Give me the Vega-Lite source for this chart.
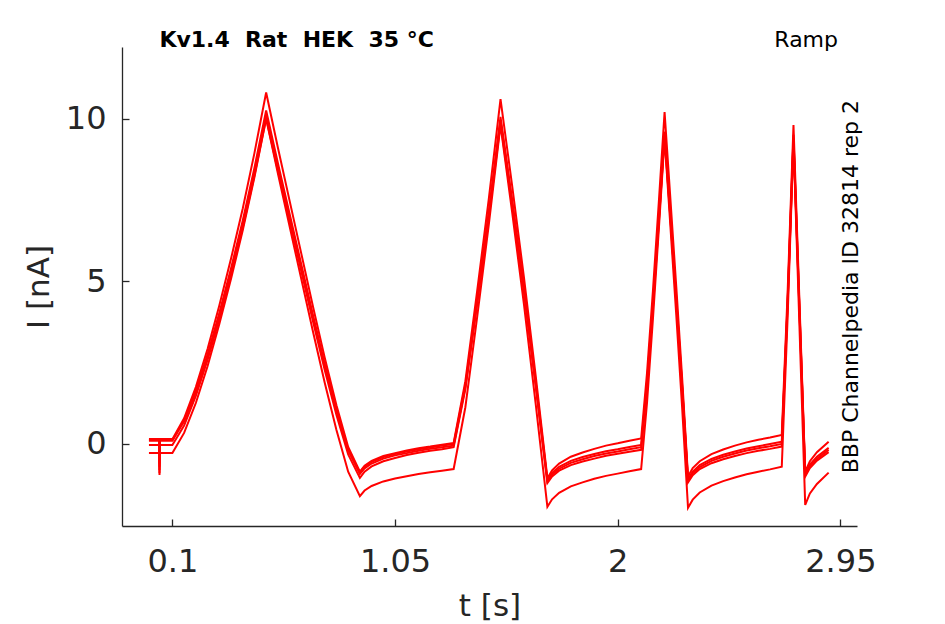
{
  "$schema": "https://vega.github.io/schema/vega-lite/v6.json",
  "width": 735,
  "height": 479,
  "autosize": "none",
  "padding": {"left": 122, "top": 47, "right": 88, "bottom": 98},
  "background": "white",
  "config": {
    "view": {"stroke": null},
    "axis": {
      "grid": false,
      "domainColor": "#262626",
      "domainWidth": 1.3,
      "tickColor": "#262626",
      "tickWidth": 1.3,
      "tickSize": -7,
      "labelColor": "#262626",
      "titleColor": "#262626",
      "labelFont": "DejaVu Sans",
      "titleFont": "DejaVu Sans",
      "labelFontSize": 32,
      "titleFontSize": 31,
      "titleFontWeight": "normal"
    }
  },
  "layer": [
    {
      "data": {
        "values": [
          {"s":1,"t":0,"i":0.15},{"s":1,"t":0.044,"i":0.15},{"s":1,"t":0.045,"i":-0.95},{"s":1,"t":0.046,"i":0.15},
          {"s":1,"t":0.1,"i":0.15},{"s":1,"t":0.15,"i":0.79},{"s":1,"t":0.2,"i":1.75},{"s":1,"t":0.25,"i":2.92},{"s":1,"t":0.3,"i":4.25},{"s":1,"t":0.35,"i":5.69},{"s":1,"t":0.4,"i":7.23},{"s":1,"t":0.45,"i":8.94},{"s":1,"t":0.5,"i":10.8},
          {"s":1,"t":0.55,"i":9.11},{"s":1,"t":0.6,"i":7.48},{"s":1,"t":0.65,"i":5.85},{"s":1,"t":0.7,"i":4.22},{"s":1,"t":0.75,"i":2.65},{"s":1,"t":0.8,"i":1.19},{"s":1,"t":0.85,"i":-0.09},{"s":1,"t":0.9,"i":-0.85},
          {"s":1,"t":0.92,"i":-0.67},{"s":1,"t":0.95,"i":-0.52},{"s":1,"t":1.0,"i":-0.37},{"s":1,"t":1.05,"i":-0.28},{"s":1,"t":1.1,"i":-0.2},{"s":1,"t":1.15,"i":-0.13},{"s":1,"t":1.2,"i":-0.08},{"s":1,"t":1.25,"i":-0.02},{"s":1,"t":1.3,"i":0.03},
          {"s":1,"t":1.35,"i":1.93},{"s":1,"t":1.4,"i":4.68},{"s":1,"t":1.45,"i":7.53},{"s":1,"t":1.5,"i":10.6},
          {"s":1,"t":1.55,"i":7.92},{"s":1,"t":1.6,"i":5.12},{"s":1,"t":1.65,"i":2.1},{"s":1,"t":1.7,"i":-1.05},
          {"s":1,"t":1.72,"i":-0.81},{"s":1,"t":1.75,"i":-0.6},{"s":1,"t":1.8,"i":-0.39},{"s":1,"t":1.85,"i":-0.26},{"s":1,"t":1.9,"i":-0.15},{"s":1,"t":1.95,"i":-0.05},{"s":1,"t":2.0,"i":0.02},{"s":1,"t":2.05,"i":0.1},{"s":1,"t":2.1,"i":0.17},
          {"s":1,"t":2.125,"i":2.18},{"s":1,"t":2.15,"i":4.68},{"s":1,"t":2.175,"i":7.39},{"s":1,"t":2.2,"i":10.2},
          {"s":1,"t":2.225,"i":7.51},{"s":1,"t":2.25,"i":4.82},{"s":1,"t":2.275,"i":2.02},{"s":1,"t":2.3,"i":-1.0},
          {"s":1,"t":2.32,"i":-0.74},{"s":1,"t":2.35,"i":-0.53},{"s":1,"t":2.4,"i":-0.31},{"s":1,"t":2.45,"i":-0.17},{"s":1,"t":2.5,"i":-0.05},{"s":1,"t":2.55,"i":0.05},{"s":1,"t":2.6,"i":0.13},{"s":1,"t":2.65,"i":0.2},{"s":1,"t":2.7,"i":0.28},
          {"s":1,"t":2.725,"i":4.66},{"s":1,"t":2.75,"i":9.8},{"s":1,"t":2.775,"i":4.48},{"s":1,"t":2.8,"i":-0.85},
          {"s":1,"t":2.82,"i":-0.53},{"s":1,"t":2.85,"i":-0.25},{"s":1,"t":2.9,"i":0.07},

          {"s":2,"t":0,"i":0.12},{"s":2,"t":0.044,"i":0.12},{"s":2,"t":0.045,"i":-0.8},{"s":2,"t":0.046,"i":0.12},
          {"s":2,"t":0.1,"i":0.12},{"s":2,"t":0.15,"i":0.73},{"s":2,"t":0.2,"i":1.64},{"s":2,"t":0.25,"i":2.75},{"s":2,"t":0.3,"i":4.02},{"s":2,"t":0.35,"i":5.39},{"s":2,"t":0.4,"i":6.86},{"s":2,"t":0.45,"i":8.48},{"s":2,"t":0.5,"i":10.25},
          {"s":2,"t":0.55,"i":8.64},{"s":2,"t":0.6,"i":7.08},{"s":2,"t":0.65,"i":5.52},{"s":2,"t":0.7,"i":3.96},{"s":2,"t":0.75,"i":2.46},{"s":2,"t":0.8,"i":1.07},{"s":2,"t":0.85,"i":-0.16},{"s":2,"t":0.9,"i":-0.88},
          {"s":2,"t":0.92,"i":-0.7},{"s":2,"t":0.95,"i":-0.55},{"s":2,"t":1.0,"i":-0.4},{"s":2,"t":1.05,"i":-0.31},{"s":2,"t":1.1,"i":-0.23},{"s":2,"t":1.15,"i":-0.16},{"s":2,"t":1.2,"i":-0.11},{"s":2,"t":1.25,"i":-0.05},{"s":2,"t":1.3,"i":0.0},
          {"s":2,"t":1.35,"i":1.81},{"s":2,"t":1.4,"i":4.42},{"s":2,"t":1.45,"i":7.14},{"s":2,"t":1.5,"i":10.05},
          {"s":2,"t":1.55,"i":7.49},{"s":2,"t":1.6,"i":4.81},{"s":2,"t":1.65,"i":1.91},{"s":2,"t":1.7,"i":-1.1},
          {"s":2,"t":1.72,"i":-0.89},{"s":2,"t":1.75,"i":-0.7},{"s":2,"t":1.8,"i":-0.52},{"s":2,"t":1.85,"i":-0.4},{"s":2,"t":1.9,"i":-0.31},{"s":2,"t":1.95,"i":-0.22},{"s":2,"t":2.0,"i":-0.16},{"s":2,"t":2.05,"i":-0.09},{"s":2,"t":2.1,"i":-0.03},
          {"s":2,"t":2.125,"i":1.9},{"s":2,"t":2.15,"i":4.3},{"s":2,"t":2.175,"i":6.9},{"s":2,"t":2.2,"i":9.6},
          {"s":2,"t":2.225,"i":7.04},{"s":2,"t":2.25,"i":4.47},{"s":2,"t":2.275,"i":1.8},{"s":2,"t":2.3,"i":-1.08},
          {"s":2,"t":2.32,"i":-0.85},{"s":2,"t":2.35,"i":-0.65},{"s":2,"t":2.4,"i":-0.46},{"s":2,"t":2.45,"i":-0.33},{"s":2,"t":2.5,"i":-0.23},{"s":2,"t":2.55,"i":-0.14},{"s":2,"t":2.6,"i":-0.07},{"s":2,"t":2.65,"i":0.0},{"s":2,"t":2.7,"i":0.07},
          {"s":2,"t":2.725,"i":4.41},{"s":2,"t":2.75,"i":9.5},{"s":2,"t":2.775,"i":4.3},{"s":2,"t":2.8,"i":-0.9},
          {"s":2,"t":2.82,"i":-0.63},{"s":2,"t":2.85,"i":-0.39},{"s":2,"t":2.9,"i":-0.12},

          {"s":3,"t":0,"i":0.1},{"s":3,"t":0.044,"i":0.1},{"s":3,"t":0.045,"i":-0.7},{"s":3,"t":0.046,"i":0.1},
          {"s":3,"t":0.1,"i":0.1},{"s":3,"t":0.15,"i":0.7},{"s":3,"t":0.2,"i":1.6},{"s":3,"t":0.25,"i":2.7},{"s":3,"t":0.3,"i":3.95},{"s":3,"t":0.35,"i":5.3},{"s":3,"t":0.4,"i":6.75},{"s":3,"t":0.45,"i":8.35},{"s":3,"t":0.5,"i":10.1},
          {"s":3,"t":0.55,"i":8.5},{"s":3,"t":0.6,"i":6.96},{"s":3,"t":0.65,"i":5.42},{"s":3,"t":0.7,"i":3.87},{"s":3,"t":0.75,"i":2.39},{"s":3,"t":0.8,"i":1.01},{"s":3,"t":0.85,"i":-0.2},{"s":3,"t":0.9,"i":-0.92},
          {"s":3,"t":0.92,"i":-0.75},{"s":3,"t":0.95,"i":-0.6},{"s":3,"t":1.0,"i":-0.45},{"s":3,"t":1.05,"i":-0.35},{"s":3,"t":1.1,"i":-0.28},{"s":3,"t":1.15,"i":-0.21},{"s":3,"t":1.2,"i":-0.15},{"s":3,"t":1.25,"i":-0.1},{"s":3,"t":1.3,"i":-0.05},
          {"s":3,"t":1.35,"i":1.75},{"s":3,"t":1.4,"i":4.35},{"s":3,"t":1.45,"i":7.05},{"s":3,"t":1.5,"i":9.95},
          {"s":3,"t":1.55,"i":7.4},{"s":3,"t":1.6,"i":4.73},{"s":3,"t":1.65,"i":1.85},{"s":3,"t":1.7,"i":-1.15},
          {"s":3,"t":1.72,"i":-0.94},{"s":3,"t":1.75,"i":-0.76},{"s":3,"t":1.8,"i":-0.58},{"s":3,"t":1.85,"i":-0.47},{"s":3,"t":1.9,"i":-0.37},{"s":3,"t":1.95,"i":-0.29},{"s":3,"t":2.0,"i":-0.23},{"s":3,"t":2.05,"i":-0.16},{"s":3,"t":2.1,"i":-0.1},
          {"s":3,"t":2.125,"i":1.82},{"s":3,"t":2.15,"i":4.22},{"s":3,"t":2.175,"i":6.81},{"s":3,"t":2.2,"i":9.5},
          {"s":3,"t":2.225,"i":6.95},{"s":3,"t":2.25,"i":4.4},{"s":3,"t":2.275,"i":1.75},{"s":3,"t":2.3,"i":-1.12},
          {"s":3,"t":2.32,"i":-0.9},{"s":3,"t":2.35,"i":-0.71},{"s":3,"t":2.4,"i":-0.52},{"s":3,"t":2.45,"i":-0.39},{"s":3,"t":2.5,"i":-0.29},{"s":3,"t":2.55,"i":-0.2},{"s":3,"t":2.6,"i":-0.13},{"s":3,"t":2.65,"i":-0.07},{"s":3,"t":2.7,"i":0.0},
          {"s":3,"t":2.725,"i":4.32},{"s":3,"t":2.75,"i":9.4},{"s":3,"t":2.775,"i":4.23},{"s":3,"t":2.8,"i":-0.95},
          {"s":3,"t":2.82,"i":-0.68},{"s":3,"t":2.85,"i":-0.45},{"s":3,"t":2.9,"i":-0.18},

          {"s":4,"t":0,"i":-0.03},{"s":4,"t":0.044,"i":-0.03},{"s":4,"t":0.045,"i":-0.6},{"s":4,"t":0.046,"i":-0.03},
          {"s":4,"t":0.1,"i":-0.03},{"s":4,"t":0.15,"i":0.57},{"s":4,"t":0.2,"i":1.48},{"s":4,"t":0.25,"i":2.58},{"s":4,"t":0.3,"i":3.83},{"s":4,"t":0.35,"i":5.19},{"s":4,"t":0.4,"i":6.64},{"s":4,"t":0.45,"i":8.25},{"s":4,"t":0.5,"i":10.0},
          {"s":4,"t":0.55,"i":8.4},{"s":4,"t":0.6,"i":6.85},{"s":4,"t":0.65,"i":5.31},{"s":4,"t":0.7,"i":3.76},{"s":4,"t":0.75,"i":2.27},{"s":4,"t":0.8,"i":0.89},{"s":4,"t":0.85,"i":-0.32},{"s":4,"t":0.9,"i":-1.04},
          {"s":4,"t":0.92,"i":-0.85},{"s":4,"t":0.95,"i":-0.69},{"s":4,"t":1.0,"i":-0.53},{"s":4,"t":1.05,"i":-0.43},{"s":4,"t":1.1,"i":-0.34},{"s":4,"t":1.15,"i":-0.27},{"s":4,"t":1.2,"i":-0.21},{"s":4,"t":1.25,"i":-0.16},{"s":4,"t":1.3,"i":-0.1},
          {"s":4,"t":1.35,"i":1.69},{"s":4,"t":1.4,"i":4.28},{"s":4,"t":1.45,"i":6.97},{"s":4,"t":1.5,"i":9.85},
          {"s":4,"t":1.55,"i":7.31},{"s":4,"t":1.6,"i":4.66},{"s":4,"t":1.65,"i":1.78},{"s":4,"t":1.7,"i":-1.2},
          {"s":4,"t":1.72,"i":-1.0},{"s":4,"t":1.75,"i":-0.82},{"s":4,"t":1.8,"i":-0.65},{"s":4,"t":1.85,"i":-0.54},{"s":4,"t":1.9,"i":-0.45},{"s":4,"t":1.95,"i":-0.36},{"s":4,"t":2.0,"i":-0.3},{"s":4,"t":2.05,"i":-0.24},{"s":4,"t":2.1,"i":-0.18},
          {"s":4,"t":2.125,"i":1.75},{"s":4,"t":2.15,"i":4.15},{"s":4,"t":2.175,"i":6.75},{"s":4,"t":2.2,"i":9.45},
          {"s":4,"t":2.225,"i":6.9},{"s":4,"t":2.25,"i":4.35},{"s":4,"t":2.275,"i":1.69},{"s":4,"t":2.3,"i":-1.18},
          {"s":4,"t":2.32,"i":-0.96},{"s":4,"t":2.35,"i":-0.77},{"s":4,"t":2.4,"i":-0.59},{"s":4,"t":2.45,"i":-0.47},{"s":4,"t":2.5,"i":-0.37},{"s":4,"t":2.55,"i":-0.28},{"s":4,"t":2.6,"i":-0.21},{"s":4,"t":2.65,"i":-0.15},{"s":4,"t":2.7,"i":-0.08},
          {"s":4,"t":2.725,"i":4.26},{"s":4,"t":2.75,"i":9.35},{"s":4,"t":2.775,"i":4.18},{"s":4,"t":2.8,"i":-1.0},
          {"s":4,"t":2.82,"i":-0.74},{"s":4,"t":2.85,"i":-0.51},{"s":4,"t":2.9,"i":-0.25},

          {"s":5,"t":0,"i":-0.28},{"s":5,"t":0.044,"i":-0.28},{"s":5,"t":0.045,"i":-0.9},{"s":5,"t":0.046,"i":-0.28},
          {"s":5,"t":0.1,"i":-0.28},{"s":5,"t":0.15,"i":0.34},{"s":5,"t":0.2,"i":1.26},{"s":5,"t":0.25,"i":2.39},{"s":5,"t":0.3,"i":3.68},{"s":5,"t":0.35,"i":5.07},{"s":5,"t":0.4,"i":6.56},{"s":5,"t":0.45,"i":8.2},{"s":5,"t":0.5,"i":10.0},
          {"s":5,"t":0.55,"i":8.32},{"s":5,"t":0.6,"i":6.69},{"s":5,"t":0.65,"i":5.07},{"s":5,"t":0.7,"i":3.45},{"s":5,"t":0.75,"i":1.88},{"s":5,"t":0.8,"i":0.43},{"s":5,"t":0.85,"i":-0.85},{"s":5,"t":0.9,"i":-1.6},
          {"s":5,"t":0.92,"i":-1.43},{"s":5,"t":0.95,"i":-1.29},{"s":5,"t":1.0,"i":-1.15},{"s":5,"t":1.05,"i":-1.06},{"s":5,"t":1.1,"i":-0.99},{"s":5,"t":1.15,"i":-0.92},{"s":5,"t":1.2,"i":-0.87},{"s":5,"t":1.25,"i":-0.82},{"s":5,"t":1.3,"i":-0.77},
          {"s":5,"t":1.35,"i":1.13},{"s":5,"t":1.4,"i":3.88},{"s":5,"t":1.45,"i":6.74},{"s":5,"t":1.5,"i":9.8},
          {"s":5,"t":1.55,"i":7.1},{"s":5,"t":1.6,"i":4.29},{"s":5,"t":1.65,"i":1.24},{"s":5,"t":1.7,"i":-1.93},
          {"s":5,"t":1.72,"i":-1.7},{"s":5,"t":1.75,"i":-1.5},{"s":5,"t":1.8,"i":-1.3},{"s":5,"t":1.85,"i":-1.18},{"s":5,"t":1.9,"i":-1.07},{"s":5,"t":1.95,"i":-0.98},{"s":5,"t":2.0,"i":-0.91},{"s":5,"t":2.05,"i":-0.84},{"s":5,"t":2.1,"i":-0.77},
          {"s":5,"t":2.125,"i":1.26},{"s":5,"t":2.15,"i":3.81},{"s":5,"t":2.175,"i":6.55},{"s":5,"t":2.2,"i":9.4},
          {"s":5,"t":2.225,"i":6.67},{"s":5,"t":2.25,"i":3.95},{"s":5,"t":2.275,"i":1.11},{"s":5,"t":2.3,"i":-1.96},
          {"s":5,"t":2.32,"i":-1.71},{"s":5,"t":2.35,"i":-1.49},{"s":5,"t":2.4,"i":-1.28},{"s":5,"t":2.45,"i":-1.14},{"s":5,"t":2.5,"i":-1.03},{"s":5,"t":2.55,"i":-0.93},{"s":5,"t":2.6,"i":-0.85},{"s":5,"t":2.65,"i":-0.78},{"s":5,"t":2.7,"i":-0.7},
          {"s":5,"t":2.725,"i":3.9},{"s":5,"t":2.75,"i":9.3},{"s":5,"t":2.775,"i":3.72},{"s":5,"t":2.8,"i":-1.87},
          {"s":5,"t":2.82,"i":-1.52},{"s":5,"t":2.85,"i":-1.23},{"s":5,"t":2.9,"i":-0.88}
        ]
      },
      "mark": {"type": "line", "color": "#ff0000", "strokeWidth": 2},
      "encoding": {
        "x": {
          "field": "t",
          "type": "quantitative",
          "scale": {"domain": [-0.115, 3.021], "nice": false, "zero": false},
          "axis": {
            "title": "t [s]",
            "values": [0.1, 1.05, 2, 2.95],
            "labelExpr": "'' + datum.value",
            "labelPadding": 27,
            "titlePadding": 14
          }
        },
        "y": {
          "field": "i",
          "type": "quantitative",
          "scale": {"domain": [-2.52, 12.2], "nice": false, "zero": false},
          "axis": {
            "title": "I [nA]",
            "values": [0, 5, 10],
            "labelPadding": 23,
            "titlePadding": 10
          }
        },
        "detail": {"field": "s", "type": "nominal"}
      }
    },
    {
      "data": {"values": [{}]},
      "mark": {
        "type": "text",
        "text": "Kv1.4\u00a0\u00a0Rat\u00a0\u00a0HEK\u00a0\u00a035\u00a0°C",
        "font": "DejaVu Sans",
        "fontSize": 22,
        "fontWeight": "bold",
        "align": "left",
        "baseline": "alphabetic",
        "color": "#000000"
      },
      "encoding": {
        "x": {"datum": 0.0445, "type": "quantitative"},
        "y": {"datum": 12.19, "type": "quantitative"}
      }
    },
    {
      "data": {"values": [{}]},
      "mark": {
        "type": "text",
        "text": "Ramp",
        "font": "DejaVu Sans",
        "fontSize": 22,
        "align": "right",
        "baseline": "alphabetic",
        "color": "#000000"
      },
      "encoding": {
        "x": {"datum": 2.94, "type": "quantitative"},
        "y": {"datum": 12.19, "type": "quantitative"}
      }
    },
    {
      "data": {"values": [{}]},
      "mark": {
        "type": "text",
        "text": "BBP Channelpedia ID 32814 rep 2",
        "font": "DejaVu Sans",
        "fontSize": 22,
        "angle": 270,
        "align": "left",
        "baseline": "alphabetic",
        "color": "#000000"
      },
      "encoding": {
        "x": {"datum": 3.027, "type": "quantitative"},
        "y": {"datum": -0.9, "type": "quantitative"}
      }
    }
  ]
}
